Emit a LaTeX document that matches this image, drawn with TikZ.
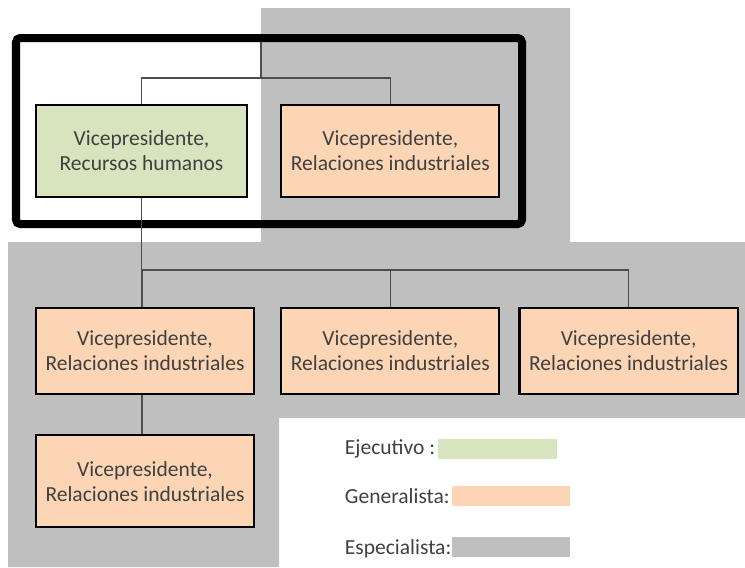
\documentclass[tikz,border=0pt]{standalone}
\usepackage{fontspec}
\setmainfont{Carlito}
\usepackage{xcolor}
\usepackage{tikz}
\usetikzlibrary{positioning}

\definecolor{ejec}{HTML}{D7E4BD}
\definecolor{gener}{HTML}{FCD5B5}
\definecolor{espec}{HTML}{BFBFBF}
\definecolor{txt}{HTML}{404040}
\definecolor{wire}{HTML}{4D4D4D}

\begin{document}
\begin{tikzpicture}[x=0.025cm,
    y=-0.025cm,
    every node/.style={font=\fontsize{15.3}{17.8}\selectfont, text=txt},
    vpbox/.style={draw=black, line width=1.6pt, align=center, inner sep=0pt,
                  minimum width=5.45cm, minimum height=2.15cm},
    swatch/.style={anchor=west, inner sep=0pt, minimum width=2.95cm, minimum height=0.5cm},
    link/.style={draw=wire, line width=0.8pt}]
  \useasboundingbox (0,0) rectangle (745,567);

  % zona de especialistas
  \fill[espec] (261,8) -- (570,8) -- (570,242) -- (745,242) -- (745,418)
               -- (279,418) -- (279,567) -- (8,567) -- (8,242) -- (261,242) -- cycle;

  % marco del ejecutivo
  \draw[line width=0.2cm, rounded corners=3] (16,38) rectangle (522,224);

  \node[vpbox, fill=ejec, minimum width=5.275cm, minimum height=2.3cm] (RH) at (141.5,151)
       {Vicepresidente,\\Recursos humanos};
  \node[vpbox, fill=gener, minimum height=2.3cm, right=0.8cm of RH] (RI)
       {Vicepresidente,\\Relaciones industriales};

  \node[vpbox, fill=gener] (G1) at (145,351) {Vicepresidente,\\Relaciones industriales};
  \node[vpbox, fill=gener, right=0.625cm of G1] (G2) {Vicepresidente,\\Relaciones industriales};
  \node[vpbox, fill=gener, right=0.45cm of G2]  (G3) {Vicepresidente,\\Relaciones industriales};
  \node[vpbox, fill=gener, minimum height=2.3cm, below=0.975cm of G1] (G4)
       {Vicepresidente,\\Relaciones industriales};

  \coordinate (T)  at (261,42);
  \coordinate (J1) at (261,78);
  \coordinate (J2) at (142,270);

  \path[link] (T) -- (J1)
              (RH.north) |- (J1) -| (RI.north)
              (RH.south) |- (J2) -| (G3.north)
              (J2) -- (J2 |- G1.north)
              (J2 -| G2.north) -- (G2.north)
              (G1.south -| J2) -- (G4.north -| J2);

  % leyenda
  \node[anchor=west] (LE) at (340,449) {Ejecutivo :};
  \node[anchor=west] (LG) at (340,496) {Generalista:};
  \node[anchor=west] (LS) at (340,549) {Especialista:};
  \node[swatch, fill=ejec, minimum width=2.975cm] (SE) at (438,449) {};
  \node[swatch, fill=gener] (SG) at (452,495.5) {};
  \node[swatch, fill=espec] (SS) at (452,547) {};
\end{tikzpicture}
\end{document}
